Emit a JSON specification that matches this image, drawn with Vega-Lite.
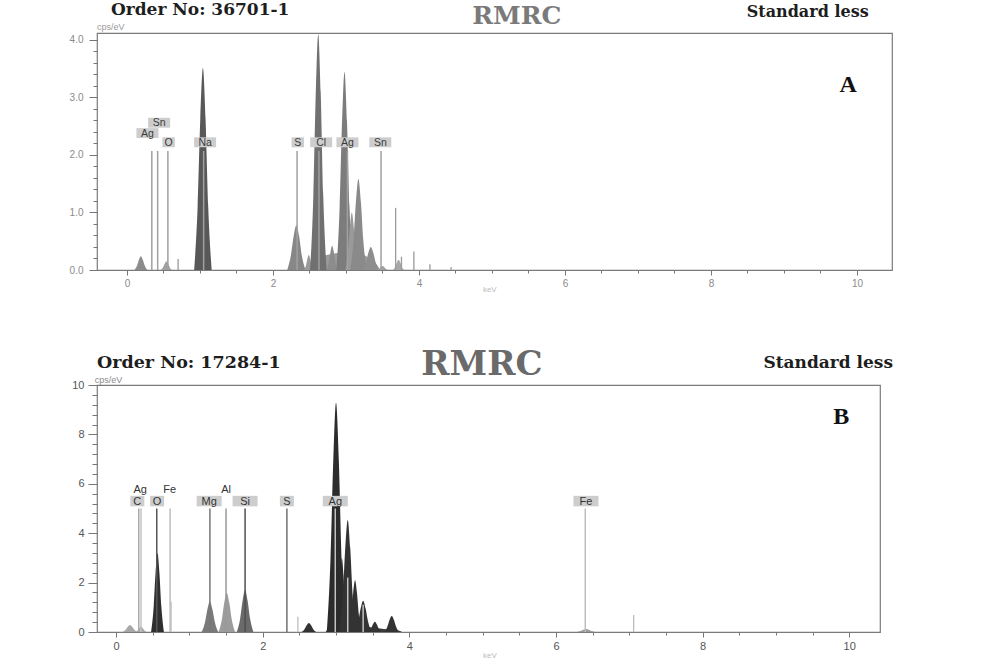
{
  "$schema": "https://vega.github.io/schema/vega-lite/v6.json",
  "background": "white",
  "padding": {"left": 68, "top": 0, "right": 5, "bottom": 0},
  "bounds": "flush",
  "spacing": 115,
  "config": {
    "view": {"stroke": "#7a7a7a", "strokeWidth": 1.2},
    "axis": {"grid": false, "domain": false, "tickColor": "#777777", "tickWidth": 1, "labelFont": "Liberation Sans", "title": null}
  },
  "datasets": {
    "peaksA": [
      {"p":"aBg","e":2.5,"c":0},{"p":"aBg","e":2.56,"c":0.22},{"p":"aBg","e":2.7,"c":0.25},{"p":"aBg","e":2.9,"c":0.3},{"p":"aBg","e":3.1,"c":0.32},{"p":"aBg","e":3.3,"c":0.22},{"p":"aBg","e":3.42,"c":0.1},{"p":"aBg","e":3.47,"c":0},
      {"p":"a1","e":0.103,"c":0},{"p":"a1","e":0.138,"c":0.077},{"p":"a1","e":0.164,"c":0.18},{"p":"a1","e":0.19,"c":0.24},{"p":"a1","e":0.216,"c":0.18},{"p":"a1","e":0.243,"c":0.077},{"p":"a1","e":0.278,"c":0},
      {"p":"aO","e":0.465,"c":0},{"p":"aO","e":0.495,"c":0.048},{"p":"aO","e":0.518,"c":0.113},{"p":"aO","e":0.54,"c":0.15},{"p":"aO","e":0.563,"c":0.113},{"p":"aO","e":0.585,"c":0.048},{"p":"aO","e":0.615,"c":0},
      {"p":"aNa","e":0.92,"c":0},{"p":"aNa","e":0.968,"c":1.12},{"p":"aNa","e":1.004,"c":2.63},{"p":"aNa","e":1.04,"c":3.51},{"p":"aNa","e":1.076,"c":2.63},{"p":"aNa","e":1.112,"c":1.12},{"p":"aNa","e":1.16,"c":0},
      {"p":"aS","e":2.195,"c":0},{"p":"aS","e":2.245,"c":0.25},{"p":"aS","e":2.283,"c":0.585},{"p":"aS","e":2.32,"c":0.78},{"p":"aS","e":2.358,"c":0.585},{"p":"aS","e":2.395,"c":0.25},{"p":"aS","e":2.445,"c":0},
      {"p":"a2","e":2.428,"c":0},{"p":"a2","e":2.453,"c":0.083},{"p":"a2","e":2.471,"c":0.195},{"p":"a2","e":2.49,"c":0.26},{"p":"a2","e":2.509,"c":0.195},{"p":"a2","e":2.528,"c":0.083},{"p":"a2","e":2.553,"c":0},
      {"p":"aCl","e":2.508,"c":0},{"p":"aCl","e":2.553,"c":1.31},{"p":"aCl","e":2.586,"c":3.08},{"p":"aCl","e":2.62,"c":4.1},{"p":"aCl","e":2.654,"c":3.08},{"p":"aCl","e":2.688,"c":1.31},{"p":"aCl","e":2.733,"c":0},
      {"p":"a3","e":2.735,"c":0},{"p":"a3","e":2.765,"c":0.134},{"p":"a3","e":2.788,"c":0.315},{"p":"a3","e":2.81,"c":0.42},{"p":"a3","e":2.833,"c":0.315},{"p":"a3","e":2.855,"c":0.134},{"p":"a3","e":2.885,"c":0},
      {"p":"aAg1","e":2.868,"c":0},{"p":"aAg1","e":2.913,"c":1.1},{"p":"aAg1","e":2.946,"c":2.58},{"p":"aAg1","e":2.98,"c":3.44},{"p":"aAg1","e":3.014,"c":2.58},{"p":"aAg1","e":3.048,"c":1.1},{"p":"aAg1","e":3.093,"c":0},
      {"p":"aSh","e":2.993,"c":0},{"p":"aSh","e":3.028,"c":0.32},{"p":"aSh","e":3.054,"c":0.75},{"p":"aSh","e":3.08,"c":1.0},{"p":"aSh","e":3.106,"c":0.75},{"p":"aSh","e":3.133,"c":0.32},{"p":"aSh","e":3.168,"c":0},
      {"p":"aAg2","e":3.058,"c":0},{"p":"aAg2","e":3.103,"c":0.506},{"p":"aAg2","e":3.136,"c":1.185},{"p":"aAg2","e":3.17,"c":1.58},{"p":"aAg2","e":3.204,"c":1.185},{"p":"aAg2","e":3.238,"c":0.506},{"p":"aAg2","e":3.283,"c":0},
      {"p":"a4","e":3.228,"c":0},{"p":"a4","e":3.273,"c":0.128},{"p":"a4","e":3.306,"c":0.3},{"p":"a4","e":3.34,"c":0.4},{"p":"a4","e":3.374,"c":0.3},{"p":"a4","e":3.408,"c":0.128},{"p":"a4","e":3.453,"c":0},
      {"p":"a5","e":3.425,"c":0},{"p":"a5","e":3.455,"c":0.022},{"p":"a5","e":3.478,"c":0.053},{"p":"a5","e":3.5,"c":0.07},{"p":"a5","e":3.523,"c":0.053},{"p":"a5","e":3.545,"c":0.022},{"p":"a5","e":3.575,"c":0},
      {"p":"a6","e":3.645,"c":0},{"p":"a6","e":3.675,"c":0.058},{"p":"a6","e":3.698,"c":0.135},{"p":"a6","e":3.72,"c":0.18},{"p":"a6","e":3.743,"c":0.135},{"p":"a6","e":3.765,"c":0.058},{"p":"a6","e":3.795,"c":0}
    ],
    "spikesA": [
      {"e":0.70,"c":0.19},{"e":3.68,"c":1.08},{"e":3.76,"c":0.23},{"e":3.93,"c":0.32},{"e":4.15,"c":0.10},{"e":4.44,"c":0.05}
    ],
    "markersA": [
      {"el":"Ag","e":0.34,"c":2.07},{"el":"Sn","e":0.42,"c":2.07},{"el":"O","e":0.56,"c":2.07},{"el":"Na","e":1.05,"c":2.07},
      {"el":"S","e":2.33,"c":2.07},{"el":"Cl","e":2.63,"c":2.07},{"el":"Ag","e":3.02,"c":2.07},{"el":"Sn","e":3.48,"c":2.07}
    ],
    "labelsA": [
      {"el":"Sn","e":0.44,"c":2.56,"lvl":"up"},{"el":"Ag","e":0.28,"c":2.38,"lvl":"mid"},{"el":"O","e":0.57,"c":2.22,"lvl":"lo"},
      {"el":"Na","e":1.07,"c":2.22,"lvl":"lo"},{"el":"S","e":2.34,"c":2.22,"lvl":"lo"},{"el":"Cl","e":2.66,"c":2.22,"lvl":"lo"},
      {"el":"Ag","e":3.02,"c":2.22,"lvl":"lo"},{"el":"Sn","e":3.47,"c":2.22,"lvl":"lo"}
    ],
    "peaksB": [
      {"p":"bBg","e":2.86,"c":0},{"p":"bBg","e":2.95,"c":0.3},{"p":"bBg","e":3.2,"c":0.35},{"p":"bBg","e":3.45,"c":0.2},{"p":"bBg","e":3.65,"c":0.12},{"p":"bBg","e":3.85,"c":0.06},{"p":"bBg","e":3.9,"c":0},
      {"p":"b1","e":0.09,"c":0},{"p":"b1","e":0.13,"c":0.09},{"p":"b1","e":0.16,"c":0.21},{"p":"b1","e":0.19,"c":0.28},{"p":"b1","e":0.22,"c":0.21},{"p":"b1","e":0.25,"c":0.09},{"p":"b1","e":0.29,"c":0},
      {"p":"b2","e":0.265,"c":0},{"p":"b2","e":0.295,"c":0.07},{"p":"b2","e":0.318,"c":0.165},{"p":"b2","e":0.34,"c":0.22},{"p":"b2","e":0.363,"c":0.165},{"p":"b2","e":0.385,"c":0.07},{"p":"b2","e":0.415,"c":0},
      {"p":"bO","e":0.478,"c":0},{"p":"bO","e":0.513,"c":1.02},{"p":"bO","e":0.539,"c":2.4},{"p":"bO","e":0.565,"c":3.2},{"p":"bO","e":0.591,"c":2.4},{"p":"bO","e":0.618,"c":1.02},{"p":"bO","e":0.653,"c":0},
      {"p":"bMg","e":1.168,"c":0},{"p":"bMg","e":1.213,"c":0.394},{"p":"bMg","e":1.246,"c":0.92},{"p":"bMg","e":1.28,"c":1.23},{"p":"bMg","e":1.314,"c":0.92},{"p":"bMg","e":1.348,"c":0.394},{"p":"bMg","e":1.393,"c":0},
      {"p":"bAl","e":1.398,"c":0},{"p":"bAl","e":1.443,"c":0.51},{"p":"bAl","e":1.476,"c":1.19},{"p":"bAl","e":1.51,"c":1.59},{"p":"bAl","e":1.544,"c":1.19},{"p":"bAl","e":1.578,"c":0.51},{"p":"bAl","e":1.623,"c":0},
      {"p":"bSi","e":1.648,"c":0},{"p":"bSi","e":1.693,"c":0.544},{"p":"bSi","e":1.726,"c":1.275},{"p":"bSi","e":1.76,"c":1.7},{"p":"bSi","e":1.794,"c":1.275},{"p":"bSi","e":1.828,"c":0.544},{"p":"bSi","e":1.873,"c":0},
      {"p":"b3","e":2.53,"c":0},{"p":"b3","e":2.57,"c":0.115},{"p":"b3","e":2.6,"c":0.27},{"p":"b3","e":2.63,"c":0.36},{"p":"b3","e":2.66,"c":0.27},{"p":"b3","e":2.69,"c":0.115},{"p":"b3","e":2.73,"c":0},
      {"p":"bAg1","e":2.875,"c":0},{"p":"bAg1","e":2.925,"c":2.97},{"p":"bAg1","e":2.963,"c":6.96},{"p":"bAg1","e":3.0,"c":9.28},{"p":"bAg1","e":3.038,"c":6.96},{"p":"bAg1","e":3.075,"c":2.97},{"p":"bAg1","e":3.125,"c":0},
      {"p":"bSh","e":3.005,"c":0},{"p":"bSh","e":3.035,"c":0.96},{"p":"bSh","e":3.058,"c":2.25},{"p":"bSh","e":3.08,"c":3.0},{"p":"bSh","e":3.103,"c":2.25},{"p":"bSh","e":3.125,"c":0.96},{"p":"bSh","e":3.155,"c":0},
      {"p":"bAg2","e":3.048,"c":0},{"p":"bAg2","e":3.093,"c":1.45},{"p":"bAg2","e":3.126,"c":3.4},{"p":"bAg2","e":3.16,"c":4.53},{"p":"bAg2","e":3.194,"c":3.4},{"p":"bAg2","e":3.228,"c":1.45},{"p":"bAg2","e":3.273,"c":0},
      {"p":"b4","e":3.173,"c":0},{"p":"b4","e":3.208,"c":0.67},{"p":"b4","e":3.234,"c":1.58},{"p":"b4","e":3.26,"c":2.1},{"p":"b4","e":3.286,"c":1.58},{"p":"b4","e":3.313,"c":0.67},{"p":"b4","e":3.348,"c":0},
      {"p":"b5","e":3.258,"c":0},{"p":"b5","e":3.303,"c":0.41},{"p":"b5","e":3.336,"c":0.95},{"p":"b5","e":3.37,"c":1.27},{"p":"b5","e":3.404,"c":0.95},{"p":"b5","e":3.438,"c":0.41},{"p":"b5","e":3.483,"c":0},
      {"p":"b6","e":3.443,"c":0},{"p":"b6","e":3.478,"c":0.134},{"p":"b6","e":3.504,"c":0.315},{"p":"b6","e":3.53,"c":0.42},{"p":"b6","e":3.556,"c":0.315},{"p":"b6","e":3.583,"c":0.134},{"p":"b6","e":3.618,"c":0},
      {"p":"b7","e":3.66,"c":0},{"p":"b7","e":3.7,"c":0.21},{"p":"b7","e":3.73,"c":0.49},{"p":"b7","e":3.76,"c":0.65},{"p":"b7","e":3.79,"c":0.49},{"p":"b7","e":3.82,"c":0.21},{"p":"b7","e":3.86,"c":0},
      {"p":"bFe","e":6.285,"c":0},{"p":"bFe","e":6.335,"c":0.038},{"p":"bFe","e":6.373,"c":0.09},{"p":"bFe","e":6.41,"c":0.12},{"p":"bFe","e":6.448,"c":0.09},{"p":"bFe","e":6.485,"c":0.038},{"p":"bFe","e":6.535,"c":0}
    ],
    "spikesB": [
      {"e":0.75,"c":1.23},{"e":2.48,"c":0.62},{"e":7.06,"c":0.69}
    ],
    "markersB": [
      {"el":"C","e":0.31,"c":5.0},{"el":"Ag","e":0.34,"c":5.0},{"el":"O","e":0.555,"c":5.0},{"el":"Fe","e":0.737,"c":5.0},
      {"el":"Mg","e":1.28,"c":5.0},{"el":"Al","e":1.5,"c":5.0},{"el":"Si","e":1.76,"c":5.0},{"el":"S","e":2.33,"c":5.0},
      {"el":"Ag","e":2.99,"c":5.0},{"el":"Ag","e":3.16,"c":2.2},{"el":"Ag","e":3.37,"c":1.1},{"el":"Fe","e":6.4,"c":5.0}
    ],
    "labelsB": [
      {"el":"Ag","e":0.33,"c":5.75,"lvl":"up"},{"el":"C","e":0.29,"c":5.3,"lvl":"lo"},{"el":"O","e":0.56,"c":5.3,"lvl":"lo"},
      {"el":"Fe","e":0.73,"c":5.75,"lvl":"up"},{"el":"Mg","e":1.27,"c":5.3,"lvl":"lo"},{"el":"Al","e":1.5,"c":5.75,"lvl":"up"},
      {"el":"Si","e":1.76,"c":5.3,"lvl":"lo"},{"el":"S","e":2.33,"c":5.3,"lvl":"lo"},{"el":"Ag","e":2.99,"c":5.3,"lvl":"lo"},
      {"el":"Fe","e":6.41,"c":5.3,"lvl":"lo"}
    ]
  },
  "vconcat": [
    {
      "width": 795,
      "height": 237,
      "encoding": {
        "x": {"field": "e", "type": "quantitative",
          "scale": {"domain": [-0.411, 10.48], "nice": false, "zero": false},
          "axis": {"values": [0,0.5,1,1.5,2,2.5,3,3.5,4,4.5,5,5.5,6,6.5,7,7.5,8,8.5,9,9.5,10],
            "labelExpr": "datum.value % 2 == 0 ? format(datum.value, 'd') : ''",
            "tickSize": {"condition": {"test": "datum.value % 2 == 0", "value": 5}, "value": 3},
            "labelColor": "#8a8a8a", "labelFontSize": 10, "labelPadding": 3}},
        "y": {"field": "c", "type": "quantitative", "stack": null,
          "scale": {"domain": [0, 4.12], "nice": false, "zero": false},
          "axis": {"values": [0,0.2,0.4,0.6,0.8,1,1.2,1.4,1.6,1.8,2,2.2,2.4,2.6,2.8,3,3.2,3.4,3.6,3.8,4],
            "labelExpr": "abs(datum.value - round(datum.value)) < 0.01 ? format(datum.value, '.1f') : ''",
            "tickSize": {"condition": {"test": "abs(datum.value - round(datum.value)) < 0.01", "value": 8}, "value": 4},
            "labelColor": "#8a8a8a", "labelFontSize": 10, "labelPadding": 6}}
      },
      "resolve": {"scale": {"color": "independent"}},
      "layer": [
        {"data": {"name": "peaksA"},
          "mark": {"type": "area", "interpolate": "monotone", "clip": true},
          "encoding": {"color": {"field": "p", "type": "nominal", "legend": null,
            "scale": {"domain": ["aBg","a1","aO","aNa","aS","a2","aCl","a3","aAg1","aSh","aAg2","a4","a5","a6"],
              "range": ["#9a9a9a","#8c8c8c","#a0a0a0","#585858","#878787","#9a9a9a","#707070","#8c8c8c","#7c7c7c","#9a9a9a","#8a8a8a","#8e8e8e","#a0a0a0","#a8a8a8"]}}}},
        {"data": {"name": "spikesA"},
          "mark": {"type": "rule", "color": "#9a9a9a", "strokeWidth": 1.3},
          "encoding": {"y2": {"datum": 0}}},
        {"data": {"name": "markersA"},
          "mark": {"type": "rule", "color": "#a0a0a0", "strokeWidth": 1.5},
          "encoding": {"y2": {"datum": 0}}},
        {"data": {"name": "labelsA"}, "transform": [{"filter": "length(datum.el) == 2"}],
          "mark": {"type": "point", "shape": "M-1,-0.45H1V0.45H-1Z", "size": 484, "filled": true, "color": "#cdcdcd", "opacity": 1, "strokeWidth": 0}},
        {"data": {"name": "labelsA"}, "transform": [{"filter": "length(datum.el) == 1"}],
          "mark": {"type": "point", "shape": "M-1,-0.8H1V0.8H-1Z", "size": 156, "filled": true, "color": "#cdcdcd", "opacity": 1, "strokeWidth": 0}},
        {"data": {"name": "labelsA"},
          "mark": {"type": "text", "font": "Liberation Sans", "fontSize": 10.5, "color": "#3a3a3a", "align": "center", "baseline": "middle", "dy": 0.5},
          "encoding": {"text": {"field": "el"}}},
        {"data": {"values": [{"t": "Order No: 36701-1", "e": -0.22, "c": 4.43}]},
          "mark": {"type": "text", "font": "DejaVu Serif", "fontWeight": "bold", "fontSize": 17, "color": "#1e1e1e", "align": "left", "baseline": "alphabetic"},
          "encoding": {"text": {"field": "t"}}},
        {"data": {"values": [{"t": "RMRC", "e": 5.34, "c": 4.28}]},
          "mark": {"type": "text", "font": "DejaVu Serif", "fontWeight": "bold", "fontSize": 25, "color": "#7a7a7a", "align": "center", "baseline": "alphabetic"},
          "encoding": {"text": {"field": "t"}}},
        {"data": {"values": [{"t": "Standard less", "e": 8.49, "c": 4.4}]},
          "mark": {"type": "text", "font": "DejaVu Serif", "fontWeight": "bold", "fontSize": 16, "color": "#1e1e1e", "align": "left", "baseline": "alphabetic"},
          "encoding": {"text": {"field": "t"}}},
        {"data": {"values": [{"t": "A", "e": 9.88, "c": 3.1}]},
          "mark": {"type": "text", "font": "Liberation Serif", "fontWeight": "bold", "fontSize": 24, "color": "#111111", "align": "center", "baseline": "alphabetic"},
          "encoding": {"text": {"field": "t"}}},
        {"data": {"values": [{"t": "cps/eV", "e": -0.41, "c": 4.17}]},
          "mark": {"type": "text", "font": "Liberation Sans", "fontSize": 9, "color": "#9a9a9a", "align": "left", "baseline": "alphabetic"},
          "encoding": {"text": {"field": "t"}}},
        {"data": {"values": [{"t": "keV", "e": 4.97, "c": -0.35}]},
          "mark": {"type": "text", "font": "Liberation Sans", "fontSize": 8, "color": "#bbbbbb", "align": "center", "baseline": "middle"},
          "encoding": {"text": {"field": "t"}}}
      ]
    },
    {
      "width": 783,
      "height": 247,
      "encoding": {
        "x": {"field": "e", "type": "quantitative",
          "scale": {"domain": [-0.26, 10.42], "nice": false, "zero": false},
          "axis": {"values": [0,0.5,1,1.5,2,2.5,3,3.5,4,4.5,5,5.5,6,6.5,7,7.5,8,8.5,9,9.5,10],
            "labelExpr": "datum.value % 2 == 0 ? format(datum.value, 'd') : ''",
            "tickSize": {"condition": {"test": "datum.value % 2 == 0", "value": 5}, "value": 3},
            "labelColor": "#555555", "labelFontSize": 11, "labelPadding": 3}},
        "y": {"field": "c", "type": "quantitative", "stack": null,
          "scale": {"domain": [0, 10], "nice": false, "zero": false},
          "axis": {"values": [0,0.4,0.8,1.2,1.6,2,2.4,2.8,3.2,3.6,4,4.4,4.8,5.2,5.6,6,6.4,6.8,7.2,7.6,8,8.4,8.8,9.2,9.6,10],
            "labelExpr": "abs(datum.value / 2 - round(datum.value / 2)) < 0.01 ? format(datum.value, 'd') : ''",
            "tickSize": {"condition": {"test": "abs(datum.value / 2 - round(datum.value / 2)) < 0.01", "value": 9}, "value": 5},
            "labelColor": "#555555", "labelFontSize": 11, "labelPadding": 4}}
      },
      "resolve": {"scale": {"color": "independent"}},
      "layer": [
        {"data": {"name": "peaksB"},
          "mark": {"type": "area", "interpolate": "monotone", "clip": true},
          "encoding": {"color": {"field": "p", "type": "nominal", "legend": null,
            "scale": {"domain": ["bBg","b1","b2","bO","bMg","bAl","bSi","b3","bAg1","bSh","bAg2","b4","b5","b6","b7","bFe"],
              "range": ["#3a3a3a","#a8a8a8","#a8a8a8","#2f2f2f","#7a7a7a","#9c9c9c","#6a6a6a","#333333","#2c2c2c","#2c2c2c","#333333","#333333","#333333","#333333","#333333","#9a9a9a"]}}}},
        {"data": {"name": "spikesB"},
          "mark": {"type": "rule", "color": "#bdbdbd", "strokeWidth": 1.3},
          "encoding": {"y2": {"datum": 0}}},
        {"data": {"name": "markersB"},
          "mark": {"type": "rule", "strokeWidth": 1.5},
          "encoding": {"y2": {"datum": 0},
            "color": {"field": "el", "type": "nominal", "legend": null,
              "scale": {"domain": ["C","Ag","O","Fe","Mg","Al","Si","S"],
                "range": ["#a8a8a8","#c4c4c4","#555555","#bdbdbd","#777777","#9a9a9a","#505050","#707070"]}}}},
        {"data": {"name": "labelsB"}, "transform": [{"filter": "datum.lvl == 'lo' && length(datum.el) == 2"}],
          "mark": {"type": "point", "shape": "M-1,-0.42H1V0.42H-1Z", "size": 625, "filled": true, "color": "#cdcdcd", "opacity": 1, "strokeWidth": 0}},
        {"data": {"name": "labelsB"}, "transform": [{"filter": "datum.lvl == 'lo' && length(datum.el) == 1"}],
          "mark": {"type": "point", "shape": "M-1,-0.75H1V0.75H-1Z", "size": 196, "filled": true, "color": "#cdcdcd", "opacity": 1, "strokeWidth": 0}},
        {"data": {"name": "labelsB"},
          "mark": {"type": "text", "font": "Liberation Sans", "fontSize": 11, "color": "#333333", "align": "center", "baseline": "middle", "dy": 0.5},
          "encoding": {"text": {"field": "el"}}},
        {"data": {"values": [{"t": "Order No: 17284-1", "e": -0.26, "c": 10.67}]},
          "mark": {"type": "text", "font": "DejaVu Serif", "fontWeight": "bold", "fontSize": 17.5, "color": "#1e1e1e", "align": "left", "baseline": "alphabetic"},
          "encoding": {"text": {"field": "t"}}},
        {"data": {"values": [{"t": "RMRC", "e": 4.99, "c": 10.39}]},
          "mark": {"type": "text", "font": "DejaVu Serif", "fontWeight": "bold", "fontSize": 34, "color": "#6a6a6a", "align": "center", "baseline": "alphabetic"},
          "encoding": {"text": {"field": "t"}}},
        {"data": {"values": [{"t": "Standard less", "e": 8.83, "c": 10.67}]},
          "mark": {"type": "text", "font": "DejaVu Serif", "fontWeight": "bold", "fontSize": 17, "color": "#1e1e1e", "align": "left", "baseline": "alphabetic"},
          "encoding": {"text": {"field": "t"}}},
        {"data": {"values": [{"t": "B", "e": 9.89, "c": 8.42}]},
          "mark": {"type": "text", "font": "Liberation Serif", "fontWeight": "bold", "fontSize": 24, "color": "#111111", "align": "center", "baseline": "alphabetic"},
          "encoding": {"text": {"field": "t"}}},
        {"data": {"values": [{"t": "cps/eV", "e": -0.29, "c": 10.1}]},
          "mark": {"type": "text", "font": "Liberation Sans", "fontSize": 9, "color": "#8a8a8a", "align": "left", "baseline": "alphabetic"},
          "encoding": {"text": {"field": "t"}}},
        {"data": {"values": [{"t": "keV", "e": 5.1, "c": -0.99}]},
          "mark": {"type": "text", "font": "Liberation Sans", "fontSize": 8, "color": "#bbbbbb", "align": "center", "baseline": "middle"},
          "encoding": {"text": {"field": "t"}}}
      ]
    }
  ]
}
